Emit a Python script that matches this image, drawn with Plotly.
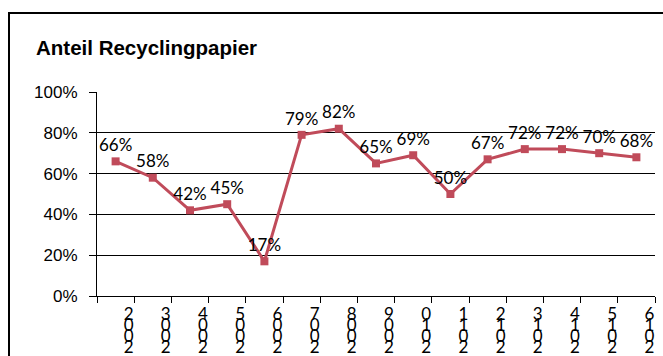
import plotly.graph_objects as go

# Share of recycled paper per year
years = [2002, 2003, 2004, 2005, 2006, 2007, 2008, 2009,
         2010, 2011, 2012, 2013, 2014, 2015, 2016]
share = [0.66, 0.58, 0.42, 0.45, 0.17, 0.79, 0.82, 0.65,
         0.69, 0.50, 0.67, 0.72, 0.72, 0.70, 0.68]
y_ticks = [0, 0.2, 0.4, 0.6, 0.8, 1.0]
y_labels = ["0%", "20%", "40%", "60%", "80%", "100%"]
title_text = "Anteil Recyclingpapier"

W, H = 663, 356
L, R, T, B = 97, 8, 92, 60
PW, PH = W - L - R, H - T - B

LINE_COLOR = "#C04B5A"
LABEL_FONT = "Lato, Carlito, sans-serif"
AXIS_FONT = "Liberation Sans, Arial, sans-serif"

x_range = [years[0] - 0.5, years[-1] + 0.5]
boundaries = [y - 0.5 for y in years] + [years[-1] + 0.5]

fig = go.Figure()
fig.add_trace(go.Scatter(
    x=years, y=share,
    mode="lines+markers+text",
    line=dict(color=LINE_COLOR, width=3),
    marker=dict(symbol="square", size=8, color=LINE_COLOR),
    text=[f"{round(v * 100)}%" for v in share],
    textposition="top center",
    textfont=dict(family=LABEL_FONT, size=17, color="black"),
    cliponaxis=False,
    showlegend=False,
    hoverinfo="skip",
))

# Year labels are stacked digit by digit, read from bottom to top
n_rows = 4
row_gap = 11
layout_axes = {}
for k in range(n_rows):
    ax_name = f"xaxis{k + 2}"
    digits = [str(y)[3 - k] for y in years]
    fig.add_trace(go.Scatter(
        x=years, y=[None] * len(years),
        xaxis=f"x{k + 2}", yaxis="y",
        showlegend=False, hoverinfo="skip",
    ))
    layout_axes[ax_name] = dict(
        overlaying="x", anchor="y", side="bottom",
        range=x_range, tickmode="array",
        tickvals=years, ticktext=digits,
        ticks="", showline=False, showgrid=False, zeroline=False,
        automargin=False,
        ticklabelshift=13,
        ticklabelstandoff=6 + k * row_gap,
        tickfont=dict(family=LABEL_FONT, size=17, color="black"),
    )

fig.update_layout(
    width=W, height=H,
    margin=dict(l=L, r=R, t=T, b=B, pad=0, autoexpand=False),
    paper_bgcolor="white", plot_bgcolor="white",
    title=dict(
        text=f"<b>{title_text}</b>",
        x=36 / W, xanchor="left", y=1 - 48 / H, yanchor="middle",
        font=dict(family=AXIS_FONT, size=20.5, color="black"),
    ),
    xaxis=dict(
        range=x_range, tickmode="array",
        tickvals=boundaries, ticktext=[""] * len(boundaries),
        ticks="outside", ticklen=6, tickcolor="black", tickwidth=1,
        showline=True, linecolor="black", linewidth=1,
        showgrid=False, zeroline=False, automargin=False,
    ),
    yaxis=dict(
        range=[0, 1], tickmode="array",
        tickvals=y_ticks, ticktext=y_labels,
        ticks="outside", ticklen=7, tickcolor="black", tickwidth=1,
        showline=True, linecolor="black", linewidth=1,
        showgrid=True, gridcolor="black", gridwidth=1,
        zeroline=False, automargin=False,
        ticklabelstandoff=8,
        tickfont=dict(family=AXIS_FONT, size=17, color="black"),
    ),
    **layout_axes,
)

# Frame around the chart area
fig.add_shape(
    type="rect", xref="paper", yref="paper",
    x0=(9 - L) / PW, x1=(W + 10 - L) / PW,
    y0=-(H + 10 - T - PH) / PH, y1=(H - 13 - B) / PH,
    line=dict(color="black", width=2), fillcolor="rgba(0,0,0,0)",
    layer="above",
)

fig.write_html("out.html")
